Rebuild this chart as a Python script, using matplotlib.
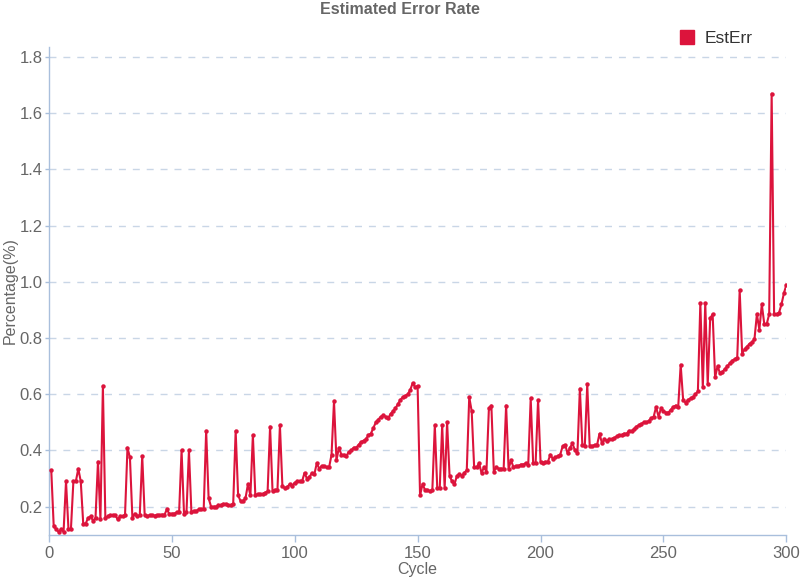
import matplotlib
matplotlib.use("Agg")
import matplotlib.pyplot as plt
from matplotlib.lines import Line2D

plt.rcParams['font.family'] = ['Liberation Sans', 'DejaVu Sans']

cycles = list(range(1, 301))

est_err = [
    # 1-50
    0.33, 0.13, 0.12, 0.11, 0.12, 0.11, 0.29, 0.12, 0.12, 0.29,
    0.29, 0.335, 0.29, 0.14, 0.14, 0.16, 0.165, 0.15, 0.16, 0.36,
    0.155, 0.63, 0.16, 0.165, 0.17, 0.17, 0.17, 0.155, 0.165, 0.165,
    0.17, 0.41, 0.375, 0.16, 0.175, 0.165, 0.17, 0.38, 0.17, 0.165,
    0.17, 0.17, 0.168, 0.17, 0.17, 0.172, 0.17, 0.19, 0.175, 0.175,
    # 51-100
    0.175, 0.18, 0.18, 0.40, 0.175, 0.18, 0.40, 0.18, 0.185, 0.185,
    0.19, 0.19, 0.19, 0.47, 0.23, 0.20, 0.20, 0.20, 0.205, 0.205,
    0.21, 0.21, 0.205, 0.205, 0.21, 0.47, 0.24, 0.22, 0.22, 0.23,
    0.28, 0.24, 0.455, 0.24, 0.245, 0.245, 0.245, 0.25, 0.255, 0.485,
    0.255, 0.26, 0.26, 0.49, 0.275, 0.265, 0.27, 0.28, 0.275, 0.285,
    # 101-150
    0.29, 0.29, 0.29, 0.32, 0.30, 0.305, 0.32, 0.315, 0.355, 0.335,
    0.345, 0.345, 0.34, 0.34, 0.385, 0.575, 0.365, 0.41, 0.385, 0.385,
    0.38, 0.395, 0.40, 0.41, 0.41, 0.42, 0.43, 0.435, 0.44, 0.455,
    0.46, 0.48, 0.50, 0.51, 0.52, 0.525, 0.52, 0.515, 0.53, 0.54,
    0.55, 0.565, 0.58, 0.59, 0.595, 0.60, 0.615, 0.64, 0.625, 0.63,
    # 151-200
    0.24, 0.28, 0.26, 0.26, 0.255, 0.26, 0.49, 0.265, 0.265, 0.49,
    0.265, 0.50, 0.31, 0.29, 0.28, 0.31, 0.315, 0.31, 0.32, 0.33,
    0.59, 0.54, 0.34, 0.34, 0.355, 0.32, 0.34, 0.325, 0.55, 0.56,
    0.325, 0.34, 0.335, 0.335, 0.335, 0.56, 0.335, 0.365, 0.34, 0.345,
    0.345, 0.35, 0.35, 0.355, 0.35, 0.585, 0.355, 0.355, 0.58, 0.36,
    # 201-250
    0.355, 0.36, 0.36, 0.385, 0.37, 0.375, 0.38, 0.385, 0.415, 0.42,
    0.39, 0.41, 0.425, 0.40, 0.39, 0.62, 0.42, 0.415, 0.635, 0.415,
    0.415, 0.42, 0.42, 0.46, 0.425, 0.44, 0.435, 0.44, 0.44, 0.445,
    0.45, 0.455, 0.455, 0.46, 0.46, 0.47, 0.47, 0.475, 0.485, 0.49,
    0.495, 0.50, 0.50, 0.505, 0.515, 0.52, 0.555, 0.52, 0.55, 0.54,
    # 251-300
    0.535, 0.535, 0.545, 0.555, 0.56, 0.555, 0.705, 0.58, 0.57, 0.58,
    0.585, 0.59, 0.60, 0.61, 0.925, 0.625, 0.925, 0.635, 0.87, 0.885,
    0.66, 0.70, 0.675, 0.68, 0.69, 0.70, 0.71, 0.72, 0.725, 0.73,
    0.97, 0.745, 0.76, 0.77, 0.78, 0.785, 0.795, 0.885, 0.83, 0.92,
    0.85, 0.85, 0.885, 1.67, 0.885, 0.885, 0.89, 0.92, 0.96, 0.99,
]

line_color = '#dc143c'
grid_color = '#c9d6e6'
axis_color = '#a9bfdc'
text_color = '#666666'

fig = plt.figure(figsize=(8, 5.8), dpi=100)
ax = fig.add_axes([0.061, 0.078, 0.922, 0.841])

ax.plot(cycles, est_err, color=line_color, linewidth=1.5, marker='o',
        markersize=3.2, markeredgewidth=0, zorder=3)

ax.set_xlim(0, 300)
ax.set_ylim(0.1, 1.836)
ax.set_xticks(range(0, 301, 50))
ax.set_yticks([0.2, 0.4, 0.6, 0.8, 1.0, 1.2, 1.4, 1.6, 1.8])
ax.set_yticklabels(['%.1f' % v for v in ax.get_yticks()])

for v in ax.get_yticks():
    ax.axhline(v, color=grid_color, linewidth=1, linestyle=(0, (5, 5)), zorder=1)

for side in ['top', 'right']:
    ax.spines[side].set_visible(False)
for side in ['left', 'bottom']:
    ax.spines[side].set_color(axis_color)
    ax.spines[side].set_linewidth(1)

ax.tick_params(axis='both', colors=axis_color, labelcolor=text_color,
               labelsize=12, width=1)
ax.tick_params(axis='x', length=5, pad=3)
ax.tick_params(axis='y', length=3, pad=1.5)

ax.set_xlabel('Cycle', color=text_color, fontsize=11.5, labelpad=1)
ax.set_ylabel('Percentage(%)', color=text_color, fontsize=11.5)
ax.yaxis.set_label_coords(-0.042, 0.5)

fig.text(0.5, 0.984, 'Estimated Error Rate', ha='center', va='center',
         fontsize=11.5, fontweight='bold', color=text_color)

handle = Line2D([], [], color=line_color, marker='s', linestyle='none',
                markersize=10)
ax.legend([handle], ['EstErr'], loc='upper right', bbox_to_anchor=(0.975, 1.065),
          frameon=False, fontsize=12.5, handletextpad=0.0, labelcolor='#333333')

fig.savefig('out.png', dpi=100)
